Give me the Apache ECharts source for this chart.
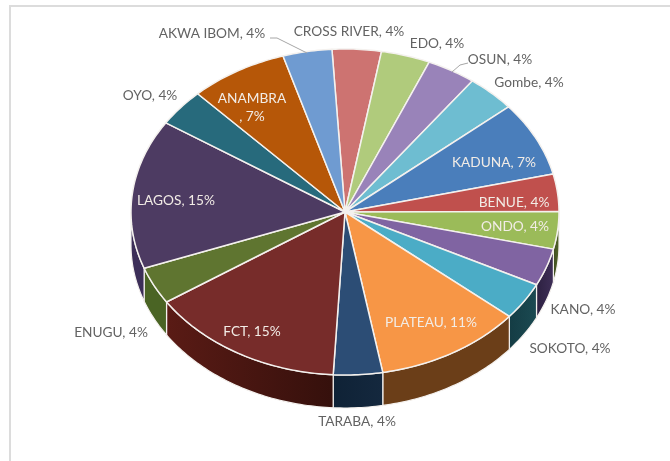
<!DOCTYPE html>
<html>
<head>
<meta charset="utf-8">
<style>
  html, body { margin: 0; padding: 0; background: #fff; }
  #chart { width: 670px; height: 461px; }
</style>
</head>
<body>
<div id="chart"></div>
<script src="https://cdn.jsdelivr.net/npm/echarts@6/dist/echarts.min.js"></script>
<script>
// clockwise, beginning with the slice just left of 12 o'clock
const states = ['CROSS RIVER', 'EDO', 'OSUN', 'Gombe', 'KADUNA', 'BENUE', 'ONDO', 'KANO', 'SOKOTO',
  'PLATEAU', 'TARABA', 'FCT', 'ENUGU', 'LAGOS', 'OYO', 'ANAMBRA', 'AKWA IBOM']
const shares = [3.7, 3.7, 3.7, 3.7, 7.4, 3.7, 3.7, 3.7, 3.7, 11.1, 3.7, 14.8, 3.7, 14.8, 3.7, 7.4, 3.7]

const topColors = ['#CD7371', '#B0CB7C', '#9983B9', '#6EBDD1', '#4A7EBB', '#C0504D', '#9BBB59', '#8064A2', '#4BACC6',
  '#F79646', '#2C4D75', '#772C2A', '#5F7530', '#4D3B62', '#276A7C', '#B65708', '#6F9BD1']
const wallColors = {
  ONDO: ['#3c4a1e', '#56682c'],
  KANO: ['#2c2040', '#3f2f58'],
  SOKOTO: ['#143c44', '#1b4a52'],
  PLATEAU: ['#6b3e18', '#6b3e18'],
  TARABA: ['#0f2236', '#14283e'],
  FCT: ['#5a1b15', '#35100c'],
  ENUGU: ['#4a6424', '#4a6424'],
  LAGOS: ['#3c2e58', '#3c2e58']
}

// label centres and text colours, by state
const labelSpots = {
  'CROSS RIVER': [349, 32], EDO: [437, 44], OSUN: [500, 60], Gombe: [529, 83], KADUNA: [494, 163],
  BENUE: [514, 203], ONDO: [515, 227], KANO: [583, 310], SOKOTO: [570, 349], PLATEAU: [431, 323],
  TARABA: [357, 422], FCT: [252, 332], ENUGU: [111, 333], LAGOS: [176, 201], OYO: [150, 96],
  ANAMBRA: [252, 108], 'AKWA IBOM': [212, 34]
}
const insideLabels = ['KADUNA', 'BENUE', 'ONDO', 'PLATEAU', 'FCT', 'LAGOS', 'ANAMBRA']
const leaderLines = {
  'AKWA IBOM': [[270, 38], [277, 38], [307, 53]],
  OSUN: [[468, 63], [460, 65], [452, 72]]
}

const cx = 345
const cy = 212
const rx = 214
const ry = 163
const depth = 33
const startAngle = -3.5
const total = shares.reduce((a, b) => a + b, 0)

const rim = (deg, drop = 0) => {
  const t = deg * Math.PI / 180
  return [cx + rx * Math.sin(t), cy - ry * Math.cos(t) + drop]
}

const arc = (from, to, drop = 0) => {
  const pts = []
  const steps = Math.max(2, Math.ceil(to - from))
  for (let i = 0; i <= steps; i++) {
    pts.push(rim(from + (to - from) * i / steps, drop))
  }
  return pts
}

const sliceLabel = (name, share) => {
  const pct = Math.round(share) + '%'
  return name === 'ANAMBRA' ? name + '\n, ' + pct : name + ', ' + pct
}

const renderSlice = (params, api) => {
  const i = params.dataIndex
  const name = states[i]
  const share = api.value(0)
  const before = shares.slice(0, i).reduce((a, b) => a + b, 0)
  const from = startAngle + before / total * 360
  const to = from + share / total * 360
  const children = []

  // front wall, only for the part of the rim that faces the viewer
  const wallFrom = Math.max(from, 90)
  const wallTo = Math.min(to, 270)
  if (wallTo > wallFrom) {
    const upper = arc(wallFrom, wallTo)
    const lower = arc(wallFrom, wallTo, depth).reverse()
    const shades = wallColors[name]
    children.push({
      type: 'polygon',
      shape: { points: upper.concat(lower) },
      style: {
        // FCT goes from dark at its right end to lighter at its left end
        fill: new echarts.graphic.LinearGradient(0, 0, 1, 0, [
          { offset: 0, color: shades[0] },
          { offset: 1, color: shades[1] }
        ]),
        stroke: '#f4f1ee',
        lineWidth: 1.2
      }
    })
  }

  children.push({
    type: 'polygon',
    shape: { points: [[cx, cy]].concat(arc(from, to)) },
    style: { fill: topColors[i], stroke: '#f4f1ee', lineWidth: 1.5, lineJoin: 'round' },
    z2: 2
  })

  const spot = labelSpots[name]
  children.push({
    type: 'text',
    z2: 10,
    style: {
      text: sliceLabel(name, share),
      x: spot[0],
      y: spot[1],
      align: 'center',
      verticalAlign: 'middle',
      fill: insideLabels.includes(name) ? '#f2ece6' : '#636363',
      font: '13.7px Lato',
      lineHeight: 18
    }
  })

  if (leaderLines[name]) {
    children.push({
      type: 'polyline',
      z2: 10,
      shape: { points: leaderLines[name] },
      style: { fill: null, stroke: '#a6a6a6', lineWidth: 1 }
    })
  }

  return { type: 'group', children }
}

const chart = echarts.init(document.getElementById('chart'))

chart.setOption({
  animation: false,
  graphic: [
    {
      type: 'polyline',
      shape: { points: [[10, 470], [10, 6], [680, 6]] },
      style: { fill: null, stroke: '#dcdcdc', lineWidth: 2 }
    }
  ],
  series: [
    {
      type: 'custom',
      coordinateSystem: 'none',
      renderItem: renderSlice,
      data: shares.map((v, i) => ({ name: states[i], value: [v] }))
    }
  ]
})
</script>
</body>
</html>
